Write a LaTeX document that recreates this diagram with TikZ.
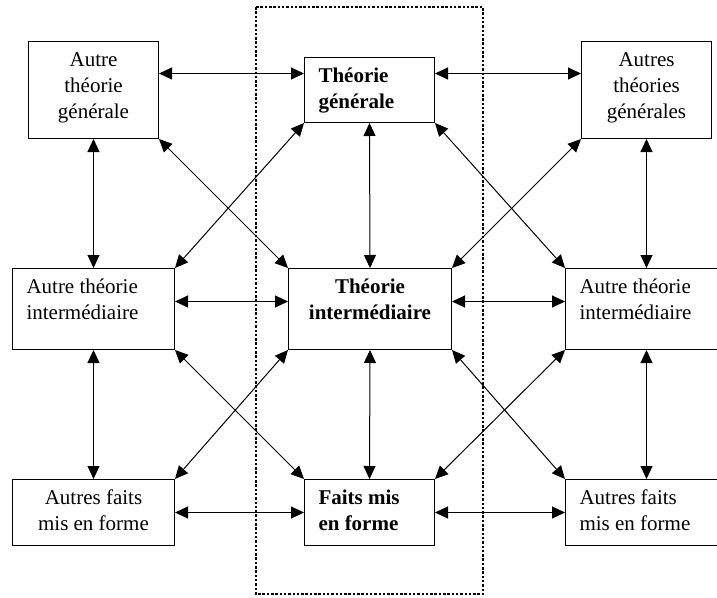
\documentclass[tikz,border=0pt]{standalone}
\usepackage{fontspec}
\setmainfont{Liberation Serif}
\usetikzlibrary{arrows.meta,positioning,calc}

\newcommand{\celltext}[4]{\begin{minipage}[t][#2][t]{#1}#3\strut#4\end{minipage}}

\begin{document}
\begin{tikzpicture}[x=1pt, y=-1pt, >={Triangle[length=13pt,width=12pt]},
        cell/.style={draw, line width=1pt, inner xsep=14pt, inner ysep=7pt, anchor=north west, font=\fontsize{21}{26}\selectfont},
        link/.style={<->, line width=1pt}]
        \useasboundingbox (0,0) rectangle (717,597);
        \draw[line width=2.5pt, dash pattern=on 2.5pt off 1.8pt] (256,7) rectangle (483,594);
        % niveau general
        \node (tl) [cell] at (28,41) {\celltext{102pt}{83pt}{\centering}{Autre\\théorie\\générale}};
        \node (tc) [cell] at (304,57) {\celltext{102pt}{51pt}{\raggedright\bfseries}{Théorie\\générale}};
        \node (tr) [cell] at (581,41) {\celltext{102pt}{83pt}{\centering}{Autres\\théories\\générales}};
        % niveau intermediaire
        \node (ml) [cell] at (12,268) {\celltext{134pt}{67pt}{\raggedright}{Autre théorie\\intermédiaire}};
        \node (mc) [cell] at (288,268) {\celltext{135pt}{67pt}{\centering\bfseries}{Théorie\\intermédiaire}};
        \node (mr) [cell] at (565,268) {\celltext{134pt}{67pt}{\raggedright}{Autre théorie\\intermédiaire}};
        % faits
        \node (bl) [cell] at (12,479) {\celltext{134pt}{52pt}{\centering}{Autres faits\\mis en forme}};
        \node (bc) [cell] at (304,479) {\celltext{102pt}{52pt}{\raggedright\bfseries}{Faits mis\\en forme}};
        \node (br) [cell] at (565,479) {\celltext{134pt}{52pt}{\raggedright}{Autres faits\\mis en forme}};
        % horizontales
        \draw[link] ([yshift=16.5pt]tl.east) -- ([yshift=16.5pt]tc.west);
        \draw[link] ([yshift=16.5pt]tc.east) -- ([yshift=16.5pt]tr.west);
        \draw[link] ([yshift=7.5pt]ml.east) -- ([yshift=7.5pt]mc.west);
        \draw[link] ([yshift=7.5pt]mc.east) -- ([yshift=7.5pt]mr.west);
        \draw[link] (bl.east) -- (bc.west);
        \draw[link] (bc.east) -- (br.west);
        % verticales
        \draw[link] (tl.south) -- (ml.north);
        \draw[link] (tc.south) -- (mc.north);
        \draw[link] (tr.south) -- (mr.north);
        \draw[link] (ml.south) -- (bl.north);
        \draw[link] (mc.south) -- (bc.north);
        \draw[link] (mr.south) -- (br.north);
        % diagonales
        \draw[link] (tl.south east) -- (mc.north west);
        \draw[link] (tc.south west) -- (ml.north east);
        \draw[link] (tc.south east) -- (mr.north west);
        \draw[link] (tr.south west) -- (mc.north east);
        \draw[link] (ml.south east) -- (bc.north west);
        \draw[link] (mc.south west) -- (bl.north east);
        \draw[link] (mc.south east) -- (br.north west);
        \draw[link] (mr.south west) -- (bc.north east);
    \end{tikzpicture}
\end{document}
